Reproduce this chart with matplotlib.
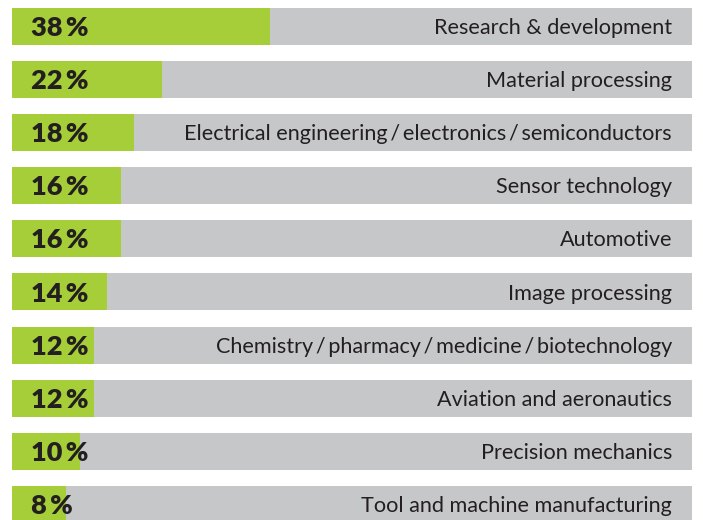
import matplotlib
matplotlib.use("Agg")
import matplotlib.pyplot as plt

labels = ["Research & development",
          "Material processing",
          "Electrical engineering\u2009/\u2009electronics\u2009/\u2009semiconductors",
          "Sensor technology",
          "Automotive",
          "Image processing",
          "Chemistry\u2009/\u2009pharmacy\u2009/\u2009medicine\u2009/\u2009biotechnology",
          "Aviation and aeronautics",
          "Precision mechanics",
          "Tool and machine manufacturing"]
values = [38, 22, 18, 16, 16, 14, 12, 12, 10, 8]

green = "#a6ce39"
grey = "#c6c7c9"
dark = "#231f20"

fig = plt.figure(figsize=(7.03, 5.20), dpi=100)
ax = fig.add_axes([0, 0, 1, 1])
ax.set_xlim(-12 / 6.8, (703 - 12) / 6.8)
ax.set_ylim(9.294, -0.499)
ax.axis("off")

ypos = list(range(len(values)))
h = 37 / 53.1
ax.barh(ypos, [100] * len(values), height=h, color=grey, linewidth=0)
ax.barh(ypos, values, height=h, color=green, linewidth=0)

for y, v, lab in zip(ypos, values, labels):
    ax.text(2.8, y + 0.03, f"{v}\u2009%", ha="left", va="center", fontsize=19.5,
            fontweight="heavy", family=["Lato", "DejaVu Sans"], color=dark)
    ax.text(97.06, y + 0.03, lab, ha="right", va="center", fontsize=15.6,
            family=["Lato", "DejaVu Sans"], color=dark)

fig.savefig("out.png", dpi=100)
